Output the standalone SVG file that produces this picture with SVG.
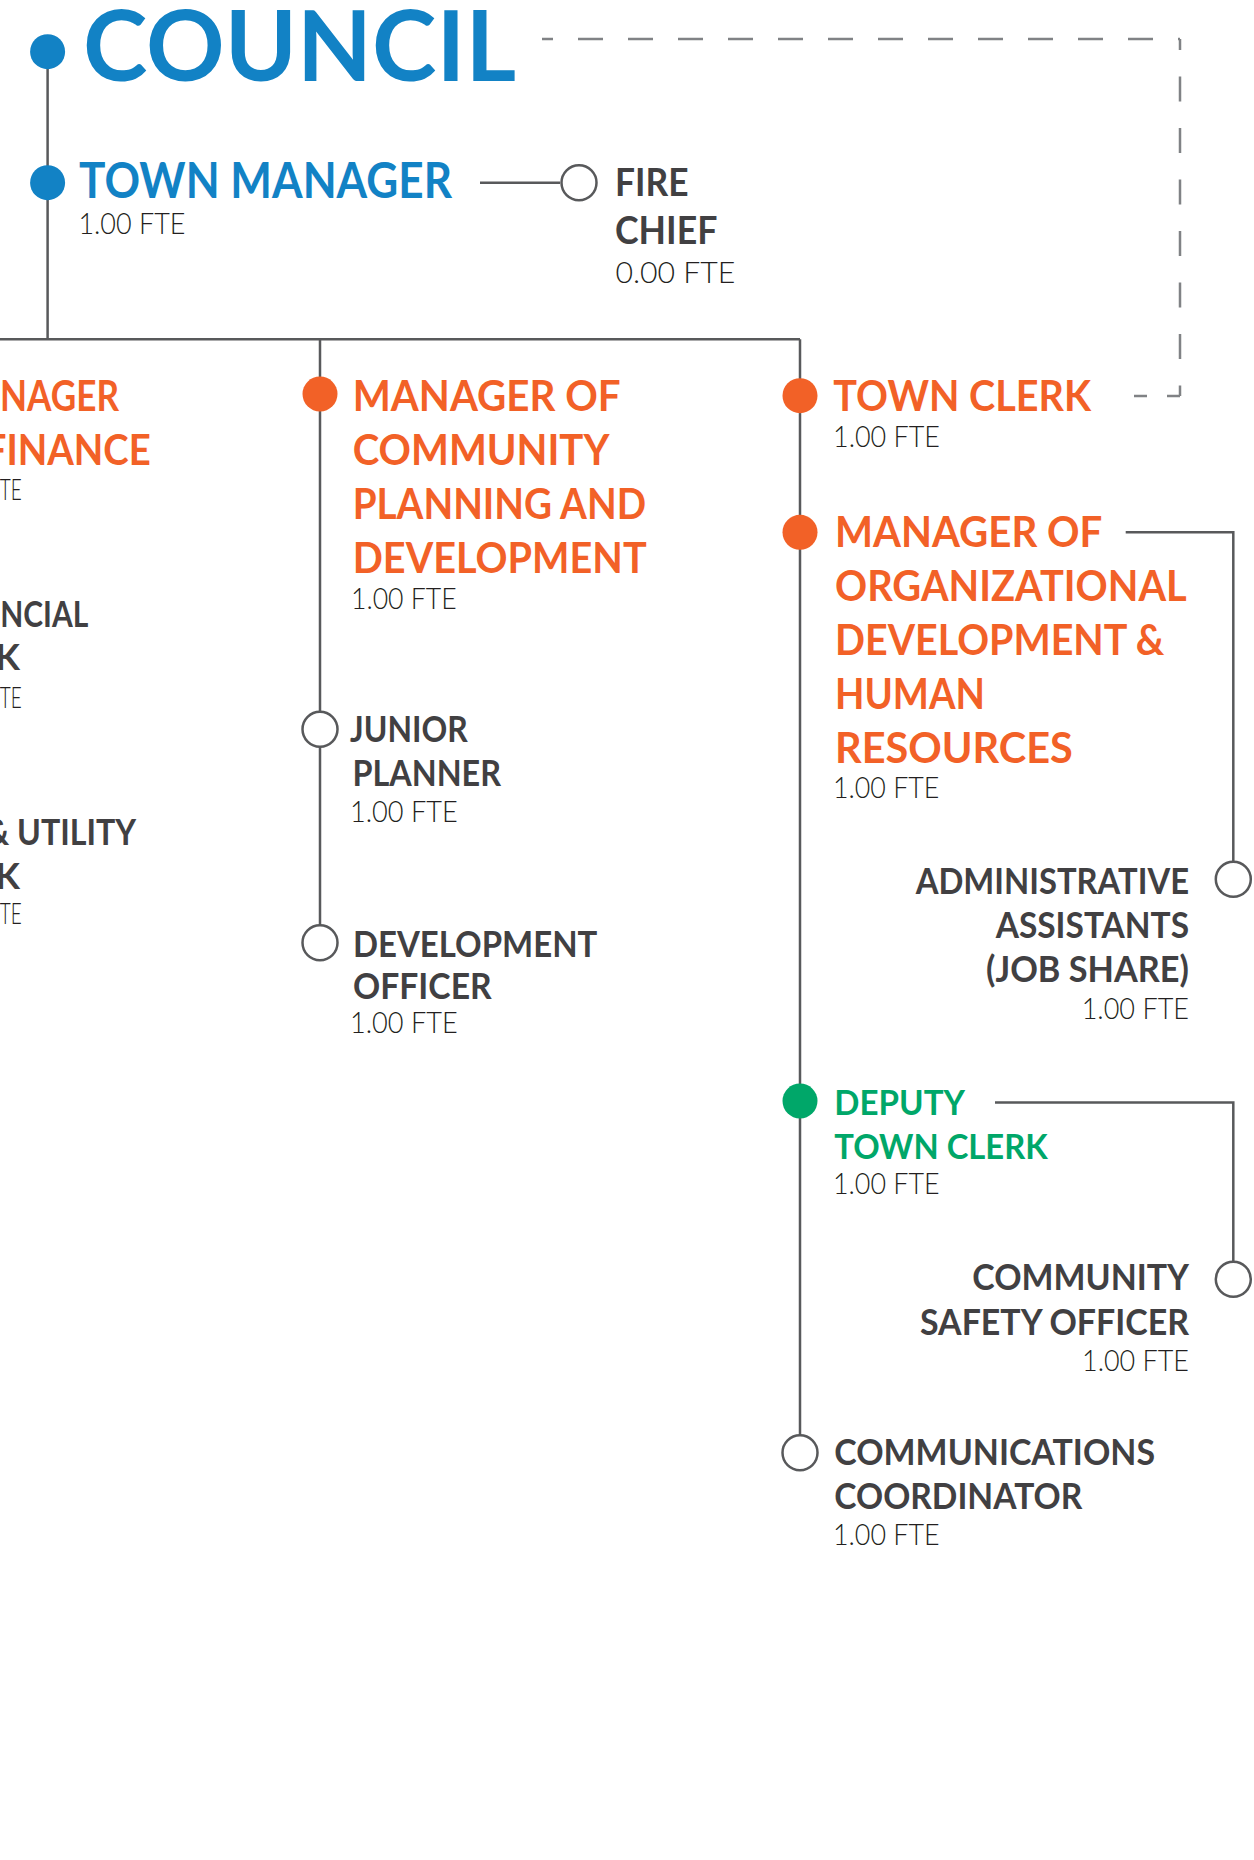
<svg xmlns="http://www.w3.org/2000/svg" width="1254" height="1860" viewBox="0 0 1254 1860">
<style>
.ln{fill:none;stroke:#58595B;stroke-width:2.5}
.dash{fill:none;stroke:#808285;stroke-width:2.5}
.hol{fill:#FFFFFF;stroke:#58595B;stroke-width:2.5}
.blue{fill:#1282C5}
.org{fill:#F26127}
.grn{fill:#00A769}
.h{font-family:Lato,"Liberation Sans",Arial,sans-serif;font-weight:700}
.ho{font-size:42px;fill:#F26127}
.hg{font-size:36px;fill:#414042}
.hgr{font-size:35px;fill:#00A769}
.f{font-family:Lato,"Liberation Sans",Arial,sans-serif;font-weight:300;font-size:29px;fill:#231F20}
.e{text-anchor:end}
</style>
<rect width="1254" height="1860" fill="#FFFFFF"/>
<g id="connectors">
<path class="ln" d="M47.6,52 V339.3"/>
<path class="ln" d="M0,339.3 H800"/>
<path class="ln" d="M480,182.7 H560"/>
<path class="ln" d="M320,339.3 V942.7"/>
<path class="ln" d="M800,339.3 V1452.7"/>
<path class="ln" d="M1125.7,532.3 H1233.3 V879.3"/>
<path class="ln" d="M995,1102.5 H1233.3 V1279.3"/>
<path class="dash" d="M542,39 H1180" stroke-dasharray="25 25" stroke-dashoffset="14"/>
<path class="dash" d="M1180,39 V396" stroke-dasharray="25 26.5" stroke-dashoffset="14"/>
<path class="dash" d="M1180,396 H1134" stroke-dasharray="13 20"/>
</g>
<g id="council">
<circle class="blue" cx="47.6" cy="51.7" r="17.5"/>
<text class="h" x="83" y="81" font-size="97" fill="#1282C5" textLength="433" lengthAdjust="spacingAndGlyphs">COUNCIL</text>
</g>
<g id="town-manager">
<circle class="blue" cx="47.6" cy="182.7" r="17.5"/>
<text class="h" x="79" y="198" font-size="49" fill="#1282C5" textLength="373" lengthAdjust="spacingAndGlyphs">TOWN MANAGER</text>
<text class="f" x="78.4" y="234" textLength="107" lengthAdjust="spacingAndGlyphs">1.00 FTE</text>
</g>
<g id="fire-chief">
<circle class="hol" cx="579" cy="182.7" r="17.5"/>
<text class="h" x="615" y="196" font-size="39" fill="#414042" textLength="73.5" lengthAdjust="spacingAndGlyphs">FIRE</text>
<text class="h" x="615" y="244" font-size="39" fill="#414042" textLength="102.4" lengthAdjust="spacingAndGlyphs">CHIEF</text>
<text class="f" x="615.4" y="283" textLength="120" lengthAdjust="spacingAndGlyphs">0.00 FTE</text>
</g>
<g id="manager-finance">
<text class="h ho e" x="119" y="411" textLength="119" lengthAdjust="spacingAndGlyphs">NAGER</text>
<text class="h ho e" x="150.7" y="464.5" textLength="166" lengthAdjust="spacingAndGlyphs">FINANCE</text>
<text class="f e" x="21.7" y="500" textLength="22" lengthAdjust="spacingAndGlyphs">TE</text>
</g>
<g id="financial-clerk">
<text class="h hg e" x="88.3" y="626.6" textLength="88" lengthAdjust="spacingAndGlyphs">NCIAL</text>
<text class="h hg e" x="20" y="670">K</text>
<text class="f e" x="21.7" y="707.6" textLength="22" lengthAdjust="spacingAndGlyphs">TE</text>
</g>
<g id="utility-clerk">
<text class="h hg e" x="136" y="845" textLength="150" lengthAdjust="spacingAndGlyphs">&amp; UTILITY</text>
<text class="h hg e" x="20" y="889.4">K</text>
<text class="f e" x="21.7" y="924" textLength="22" lengthAdjust="spacingAndGlyphs">TE</text>
</g>
<g id="manager-community-planning">
<circle class="org" cx="320" cy="394" r="17.5"/>
<text class="h ho" x="352.7" y="410.7" textLength="268" lengthAdjust="spacingAndGlyphs">MANAGER OF</text>
<text class="h ho" x="352.7" y="464.7" textLength="256.7" lengthAdjust="spacingAndGlyphs">COMMUNITY</text>
<text class="h ho" x="352.7" y="518.7" textLength="293.3" lengthAdjust="spacingAndGlyphs">PLANNING AND</text>
<text class="h ho" x="352.7" y="572.7" textLength="294" lengthAdjust="spacingAndGlyphs">DEVELOPMENT</text>
<text class="f" x="351" y="609.3" textLength="105.7" lengthAdjust="spacingAndGlyphs">1.00 FTE</text>
</g>
<g id="junior-planner">
<circle class="hol" cx="320" cy="729.3" r="17.5"/>
<text class="h hg" x="350" y="742.3" textLength="117.7" lengthAdjust="spacingAndGlyphs">JUNIOR</text>
<text class="h hg" x="352.5" y="785.7" textLength="148.5" lengthAdjust="spacingAndGlyphs">PLANNER</text>
<text class="f" x="350" y="821.7" textLength="107.7" lengthAdjust="spacingAndGlyphs">1.00 FTE</text>
</g>
<g id="development-officer">
<circle class="hol" cx="320" cy="942.7" r="17.5"/>
<text class="h hg" x="353" y="956.7" textLength="244.3" lengthAdjust="spacingAndGlyphs">DEVELOPMENT</text>
<text class="h hg" x="353" y="999" textLength="138.7" lengthAdjust="spacingAndGlyphs">OFFICER</text>
<text class="f" x="350" y="1033.3" textLength="107.7" lengthAdjust="spacingAndGlyphs">1.00 FTE</text>
</g>
<g id="town-clerk">
<circle class="org" cx="800" cy="395.7" r="17.5"/>
<text class="h ho" x="833.3" y="410.7" textLength="257.7" lengthAdjust="spacingAndGlyphs">TOWN CLERK</text>
<text class="f" x="833" y="446.7" textLength="107" lengthAdjust="spacingAndGlyphs">1.00 FTE</text>
</g>
<g id="manager-od-hr">
<circle class="org" cx="800" cy="532.3" r="17.5"/>
<text class="h ho" x="835" y="546.7" textLength="267.3" lengthAdjust="spacingAndGlyphs">MANAGER OF</text>
<text class="h ho" x="835" y="600.7" textLength="351.7" lengthAdjust="spacingAndGlyphs">ORGANIZATIONAL</text>
<text class="h ho" x="835" y="654.7" textLength="329.3" lengthAdjust="spacingAndGlyphs">DEVELOPMENT &amp;</text>
<text class="h ho" x="835" y="708.7" textLength="150" lengthAdjust="spacingAndGlyphs">HUMAN</text>
<text class="h ho" x="835" y="762.7" textLength="237.7" lengthAdjust="spacingAndGlyphs">RESOURCES</text>
<text class="f" x="833" y="798.3" textLength="106.3" lengthAdjust="spacingAndGlyphs">1.00 FTE</text>
</g>
<g id="administrative-assistants">
<circle class="hol" cx="1233.3" cy="879.3" r="17.5"/>
<text class="h hg e" x="1189" y="894" textLength="273.3" lengthAdjust="spacingAndGlyphs">ADMINISTRATIVE</text>
<text class="h hg e" x="1189" y="938.3" textLength="193.3" lengthAdjust="spacingAndGlyphs">ASSISTANTS</text>
<text class="h hg e" x="1189" y="982.3" textLength="203" lengthAdjust="spacingAndGlyphs">(JOB SHARE)</text>
<text class="f e" x="1189" y="1019" textLength="107.3" lengthAdjust="spacingAndGlyphs">1.00 FTE</text>
</g>
<g id="deputy-town-clerk">
<circle class="grn" cx="800" cy="1101" r="17.5"/>
<text class="h hgr" x="834.3" y="1115" textLength="130.7" lengthAdjust="spacingAndGlyphs">DEPUTY</text>
<text class="h hgr" x="834.3" y="1159.3" textLength="213.4" lengthAdjust="spacingAndGlyphs">TOWN CLERK</text>
<text class="f" x="833" y="1194" textLength="106.7" lengthAdjust="spacingAndGlyphs">1.00 FTE</text>
</g>
<g id="community-safety-officer">
<circle class="hol" cx="1233.3" cy="1279.3" r="17.5"/>
<text class="h hg e" x="1189" y="1290" textLength="216.7" lengthAdjust="spacingAndGlyphs">COMMUNITY</text>
<text class="h hg e" x="1189" y="1335" textLength="269" lengthAdjust="spacingAndGlyphs">SAFETY OFFICER</text>
<text class="f e" x="1189" y="1371" textLength="107" lengthAdjust="spacingAndGlyphs">1.00 FTE</text>
</g>
<g id="communications-coordinator">
<circle class="hol" cx="800" cy="1452.7" r="17.5"/>
<text class="h hg" x="834.3" y="1465" textLength="320.7" lengthAdjust="spacingAndGlyphs">COMMUNICATIONS</text>
<text class="h hg" x="834.3" y="1509.3" textLength="248" lengthAdjust="spacingAndGlyphs">COORDINATOR</text>
<text class="f" x="833" y="1545" textLength="106.7" lengthAdjust="spacingAndGlyphs">1.00 FTE</text>
</g>
</svg>
